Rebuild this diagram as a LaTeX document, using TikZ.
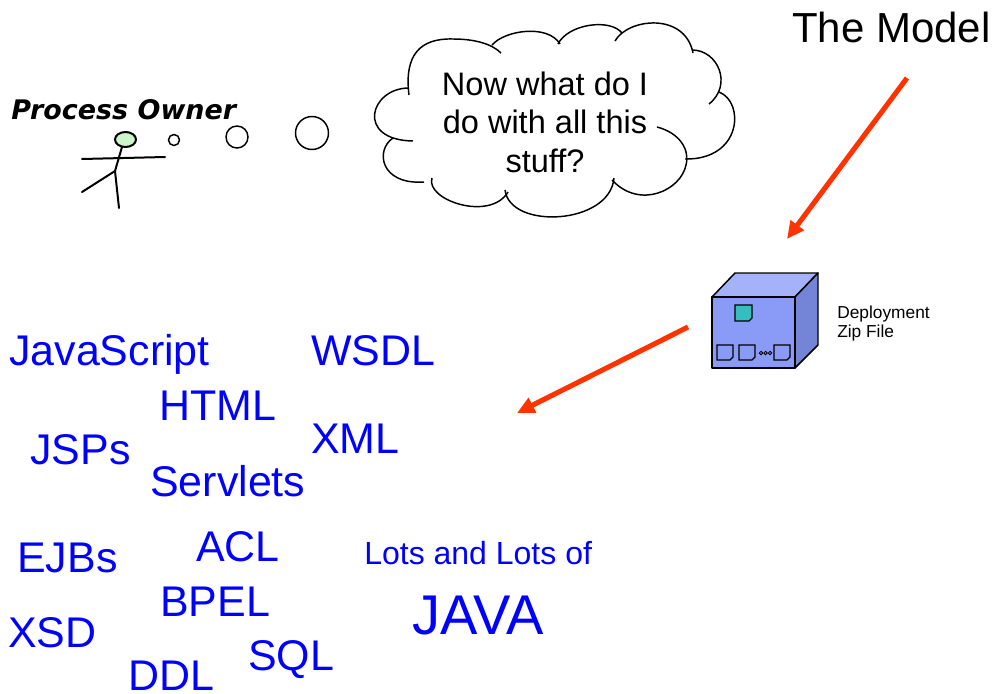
\documentclass[tikz,border=0pt]{standalone}
\usepackage{fontspec}
\setmainfont{Liberation Sans}
\newfontfamily\ownerfont{DejaVu Sans}
\usetikzlibrary{arrows.meta}
\definecolor{techblue}{RGB}{0,0,255}
\definecolor{arrowred}{RGB}{255,51,0}
\definecolor{headgreen}{RGB}{204,245,204}
\definecolor{cubefront}{RGB}{138,154,247}
\definecolor{cubetop}{RGB}{164,178,250}
\definecolor{cubeside}{RGB}{116,132,214}
\definecolor{chipteal}{RGB}{51,191,191}

\begin{document}
\begin{tikzpicture}[x=0.75pt,y=-0.75pt,
  tech/.style={text=techblue, inner sep=0pt, anchor=base west,
    font=\fontsize{32.2}{36}\selectfont},
  thought/.style={inner sep=0pt, anchor=base, font=\fontsize{24.4}{29}\selectfont},
  label/.style={inner sep=0pt, anchor=base west},
  stick/.style={line width=1.5pt, line cap=round},
  cloudline/.style={line width=1.1pt},
  bubble/.style={line width=1.1pt},
  cubeline/.style={line width=1.1pt, line join=round},
  bigarrow/.style={arrowred, line width=3.8pt,
    -{Triangle[length=13pt,width=12pt]}}]
\useasboundingbox (0,0) rectangle (996,693);

% --- title
\node[label, font=\fontsize{31.5}{36}\selectfont] (model) at (792,42) {The Model};

% --- process owner and his thought bubbles
\node[label, font=\ownerfont\bfseries\itshape\fontsize{20.2}{24}\selectfont] (owner) at (11,119) {Process Owner};
\draw[stick, fill=headgreen] (125.5,139.5) ellipse [x radius=10.5, y radius=7.5];
\coordinate (neck) at (122,147);
\coordinate (hip) at (115,171);
\draw[stick] (82,159) -- (165,157);
\draw[stick] (neck) -- (hip);
\draw[stick] (hip) -- (82,192);
\draw[stick] (hip) -- (119,208);
\draw[bubble] (174,140) circle [radius=5.5];
\draw[bubble] (237,137) circle [radius=11];
\draw[bubble] (312,133) circle [radius=16.5];

% --- thought cloud, drawn lobe by lobe
\begin{scope}[cloudline]
\draw (409,95) .. controls (404,55) and (420,38) .. (453,39)
      .. controls (475,39) and (492,44) .. (501,53);
\draw (492,45) .. controls (505,30) and (548,24) .. (560,44);
\draw (558,44) .. controls (568,24) and (610,18) .. (622,33);
\draw (615,41) .. controls (628,18) and (685,12) .. (693,53);
\draw (692,50) .. controls (718,50) and (733,85) .. (709,104);
\draw (719,92) .. controls (745,102) and (742,160) .. (685,159);
\draw (657,127) .. controls (680,133) and (690,150) .. (686,165)
      .. controls (681,190) and (640,210) .. (612,180);
\draw (614,178) .. controls (610,225) and (510,230) .. (505,190);
\draw (508,192) .. controls (490,222) and (425,200) .. (432,178);
\draw (424,182) .. controls (380,185) and (375,150) .. (393,138);
\draw (413,141) .. controls (355,140) and (370,88) .. (409,88);
\end{scope}
\node[thought] (q1) at (545,95) {Now what do I};
\node[thought] (q2) at (545,133) {do with all this};
\node[thought] (q3) at (545,172) {stuff?};

% --- deployment archive cube
\draw[cubeline, fill=cubetop] (712,297) -- (735,273) -- (818,273) -- (795,297) -- cycle;
\draw[cubeline, fill=cubeside] (795,297) -- (818,273) -- (818,345) -- (795,368) -- cycle;
\draw[cubeline, fill=cubefront] (712,297) rectangle (795,368);
\draw[line width=0.9pt, fill=chipteal] (735,305) -- (752,305) -- (752,318) -- (749,321) -- (735,321) -- cycle;
\foreach \x in {717,739,774}{
  \draw[line width=0.9pt] (\x,345) -- (\x+16,345) -- (\x+16,357) -- (\x+13,360) -- (\x,360) -- cycle;
}
\foreach \x in {761,765.5,770}{
  \draw[line width=0.6pt] (\x,353) circle [radius=1.7];
}
\node[label, font=\fontsize{13}{15}\selectfont] (dep1) at (837,318) {Deployment};
\node[label, font=\fontsize{13}{15}\selectfont] (dep2) at (837,337) {Zip File};

% --- arrows
\coordinate (a1s) at (907,78);
\coordinate (a1e) at (787,239);
\coordinate (a2s) at (688,327);
\coordinate (a2e) at (517,413);
\draw[bigarrow] (a1s) -- (a1e);
\draw[bigarrow] (a2s) -- (a2e);

% --- the technology soup
\node[tech] (js) at (9,365) {JavaScript};
\node[tech] (wsdl) at (311,365) {WSDL};
\node[tech] (html) at (159,420) {HTML};
\node[tech] (jsp) at (30,464) {JSPs};
\node[tech] (xml) at (311,453) {XML};
\node[tech] (serv) at (150,496) {Servlets};
\node[tech] (ejb) at (17,572) {EJBs};
\node[tech] (acl) at (196,561) {ACL};
\node[tech] (bpel) at (160,616) {BPEL};
\node[tech] (xsd) at (8,647) {XSD};
\node[tech] (ddl) at (128,690) {DDL};
\node[tech] (sql) at (248,670) {SQL};
\node[tech, font=\fontsize{24}{28}\selectfont] (lots) at (364,564) {Lots and Lots of};
\node[tech, font=\fontsize{42}{48}\selectfont] (java) at (412,634) {JAVA};
\end{tikzpicture}
\end{document}
